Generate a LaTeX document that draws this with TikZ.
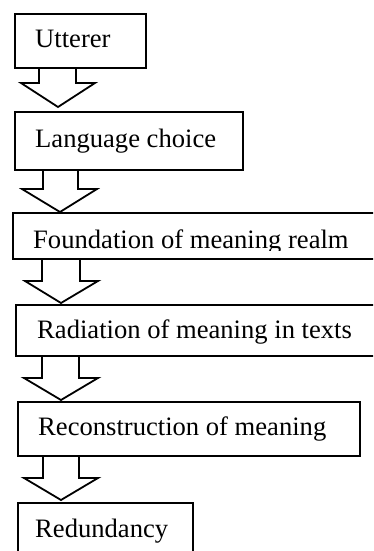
\documentclass[tikz,border=0pt]{standalone}
\usepackage{fontspec}
\setmainfont{Liberation Serif}
\usetikzlibrary{calc}
\begin{document}
\begin{tikzpicture}[x=1pt,y=-1pt,
  stepbox/.style={draw=black, line width=1.8pt, rectangle, inner sep=0pt, anchor=north west},
  lbl/.style={anchor=base west, inner sep=0pt, font=\fontsize{26.6}{30}\selectfont, text=black},
  blockarrow/.style={draw=black, line width=1.8pt, line join=miter}]
\clip (0,0) rectangle (373,551);
% boxes
\node[stepbox, minimum width=131pt, minimum height=54pt] (b1) at (14,13) {};
\node[stepbox, minimum width=228pt, minimum height=58pt] (b2) at (14,111) {};
\node[stepbox, minimum width=380pt, minimum height=46pt] (b3) at (12,212) {};
\node[stepbox, minimum width=380pt, minimum height=51pt] (b4) at (15,304) {};
\node[stepbox, minimum width=342pt, minimum height=54pt] (b5) at (17,401) {};
\node[stepbox, minimum width=175pt, minimum height=70pt] (b6) at (17,502) {};
% texts
\node[lbl] (t1) at (35,48) {Utterer};
\node[lbl] (t2) at (35,147) {Language choice};
\begin{scope}
\clip (12,212) rectangle (373,250);
\node[lbl] (t3) at (33,248) {Foundation of meaning realm};
\end{scope}
\node[lbl] (t4) at (37,338) {Radiation of meaning in texts};
\node[lbl] (t5) at (38,435) {Reconstruction of meaning};
\node[lbl] (t6) at (35,537) {Redundancy};
% block arrows
\draw[blockarrow] ($(b1.south west)+(25,0)$) |- (21,83) -- (58,107) -- (95,83) -| ($(b1.south west)+(62,0)$);
\draw[blockarrow] ($(b2.south west)+(29,0)$) |- (22,189) -- (60,212) -- (97,189) -| ($(b2.south west)+(64,0)$);
\draw[blockarrow] ($(b3.south west)+(30,0)$) |- (25,281) -- (61,303) -- (98,281) -| ($(b3.south west)+(68,0)$);
\draw[blockarrow] ($(b4.south west)+(27,0)$) |- (24,378) -- (61,400) -- (98,378) -| ($(b4.south west)+(64,0)$);
\draw[blockarrow] ($(b5.south west)+(26,0)$) |- (24,478) -- (61,500) -- (98,478) -| ($(b5.south west)+(62,0)$);
\end{tikzpicture}
\end{document}
